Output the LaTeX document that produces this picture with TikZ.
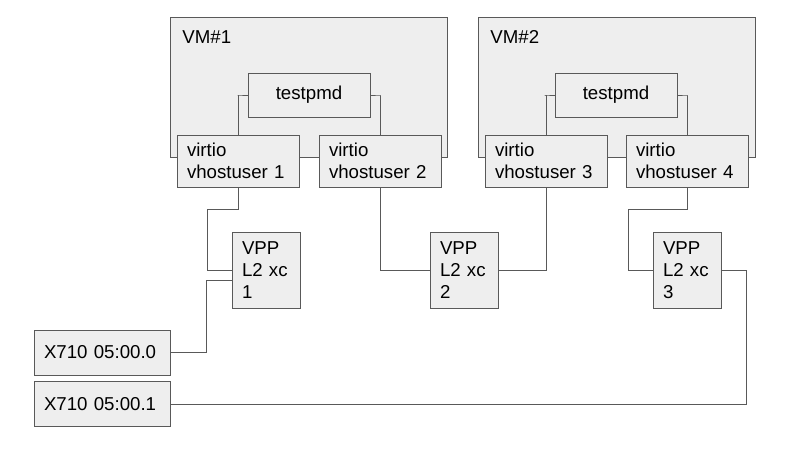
\documentclass[tikz,border=0pt]{standalone}
\usepackage{fontspec}
\setmainfont{Liberation Sans}
\usetikzlibrary{positioning}
\definecolor{boxfill}{RGB}{238,238,238}
\definecolor{boxline}{RGB}{89,89,89}
\begin{document}
\begin{tikzpicture}[x=0.75pt ,y=-0.75pt ,semithick ,
		every node/.style ={font=\fontsize{14}{16.5}\selectfont},
		box/.style ={ rectangle ,fill=boxfill ,draw=boxline ,text=black ,
			inner xsep=7.5pt ,inner ysep=0pt ,align=left},
		vm/.style ={ box ,minimum width=207.75pt ,minimum height=105pt},
		app/.style ={ box ,align=center ,minimum width=91.5pt ,minimum height=33pt},
		port/.style ={ box ,text width=76.5pt ,minimum height=39pt},
		xc/.style ={ box ,text width=36pt ,minimum height=57pt},
		nic/.style ={ box ,text width=87pt ,minimum height=33.75pt},
		link/.style ={ draw=boxline ,semithick}]
		\useasboundingbox (0,0) rectangle (795,460);
		\node[vm] (VMa) at (308.5,87) {};
		\node[anchor=north west] at (VMa.north west) [xshift=6pt ,yshift=-7pt] {VM\#1};
		\node[vm] (VMb) at (616.5,87) {};
		\node[anchor=north west] at (VMb.north west) [xshift=6pt ,yshift=-7pt] {VM\#2};
		\node[app] (TPa) at (309,95) {testpmd};
		\node[app] (TPb) at (616,95) {testpmd};
		\node[port] (V1) at (238,161) {virtio\\vhostuser 1};
		\node[port] (V2) at (380,161) {virtio\\vhostuser 2};
		\node[port] (V3) at (546,161) {virtio\\vhostuser 3};
		\node[port] (V4) at (687,161) {virtio\\vhostuser 4};
		\node[xc] (XC1) at (266,270) {VPP\\L2 xc\\1};
		\node[xc] (XC2) at (464,270) {VPP\\L2 xc\\2};
		\node[xc] (XC3) at (687,270) {VPP\\L2 xc\\3};
		\node[nic] (NICa) at (102,352.5) {X710 05:00.0};
		\node[nic] (NICb) at (102,404) {X710 05:00.1};
		% inside the VMs
		\draw[link] (TPa.west) -- ++(-10,0) -| (V1.north);
		\draw[link] (TPa.east) -- ++(10,0) -| (V2.north);
		\draw[link] (TPb.west) -- ++(-10,0) -| (V3.north);
		\draw[link] (TPb.east) -- ++(10,0) -| (V4.north);
		% vhost to VPP
		\draw[link] (V1.south) -- ++(0,22) -- ++(-31,0) |- (XC1.west);
		\draw[link] (V2.south) |- (XC2.west);
		\draw[link] (XC2.east) -| (V3.south);
		\draw[link] (V4.south) -- ++(0,22) -- ++(-59,0) |- (XC3.west);
		% VPP to NICs
		\draw[link] ([yshift=-7.5pt]XC1.west) -- ++(-25,0) |- (NICa.east);
		\draw[link] (XC3.east) -- ++(25,0) |- (NICb.east);
\end{tikzpicture}
\end{document}
